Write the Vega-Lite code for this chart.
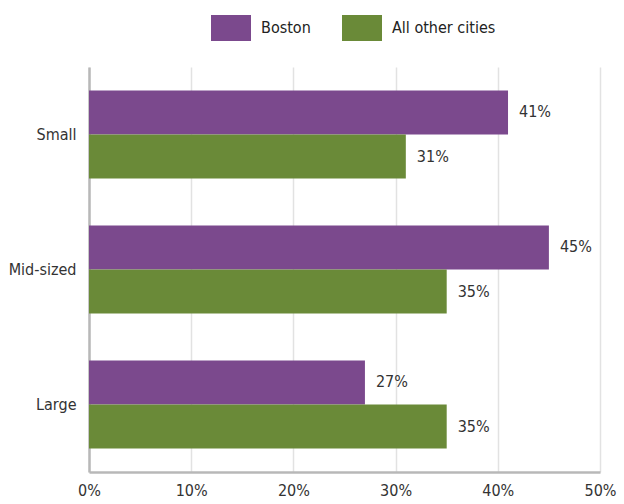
{
  "$schema": "https://vega.github.io/schema/vega-lite/v6.json",
  "autosize": "none",
  "width": 511,
  "height": 405,
  "padding": {"left": 89, "top": 67, "right": 24, "bottom": 32},
  "background": "white",
  "config": {
    "font": "DejaVu Sans Condensed",
    "view": {"stroke": null},
    "axis": {"labelFont": "DejaVu Sans Condensed", "labelColor": "#333333", "labelFontSize": 16},
    "legend": {"labelFont": "DejaVu Sans Condensed"},
    "text": {"font": "DejaVu Sans Condensed"}
  },
  "data": {
    "values": [
      {"size": "Small", "series": "Boston", "value": 41},
      {"size": "Small", "series": "All other cities", "value": 31},
      {"size": "Mid-sized", "series": "Boston", "value": 45},
      {"size": "Mid-sized", "series": "All other cities", "value": 35},
      {"size": "Large", "series": "Boston", "value": 27},
      {"size": "Large", "series": "All other cities", "value": 35}
    ]
  },
  "transform": [{"calculate": "datum.value + '%'", "as": "label"}],
  "encoding": {
    "y": {
      "field": "size", "type": "nominal", "sort": ["Small", "Mid-sized", "Large"],
      "scale": {"paddingInner": 0, "paddingOuter": 0},
      "axis": {"title": null, "ticks": false, "labelPadding": 13, "domainColor": "#b8b8b8", "domainWidth": 2.5, "labelFontSize": 16}
    },
    "yOffset": {
      "field": "series", "type": "nominal", "sort": ["Boston", "All other cities"],
      "scale": {"paddingInner": 0, "paddingOuter": 0.534}
    },
    "x": {
      "field": "value", "type": "quantitative",
      "scale": {"domain": [0, 50], "nice": false},
      "axis": {"title": null, "values": [0, 10, 20, 30, 40, 50], "labelExpr": "datum.value + '%'", "ticks": false, "labelPadding": 10, "labelFontSize": 16, "domainColor": "#b8b8b8", "domainWidth": 2.5, "gridColor": "#e2e2e2", "gridWidth": 1.5, "labelFlush": false}
    }
  },
  "layer": [
    {
      "mark": {"type": "bar"},
      "encoding": {
        "color": {
          "field": "series", "type": "nominal",
          "scale": {"domain": ["Boston", "All other cities"], "range": ["#7B498D", "#6A8A38"]},
          "legend": {
            "title": null, "orient": "none", "direction": "horizontal", "legendX": 122, "legendY": -59,
            "symbolType": "M-1,-0.65L1,-0.65L1,0.65L-1,0.65Z", "symbolSize": 1600, "symbolStrokeWidth": 0, "symbolOpacity": 1,
            "labelFontSize": 16, "labelColor": "#222222", "labelOffset": 10, "columnPadding": 31
          }
        }
      }
    },
    {
      "mark": {"type": "text", "align": "left", "baseline": "middle", "dx": 11, "fontSize": 16, "color": "#333333"},
      "encoding": {"text": {"field": "label", "type": "nominal"}}
    }
  ]
}
